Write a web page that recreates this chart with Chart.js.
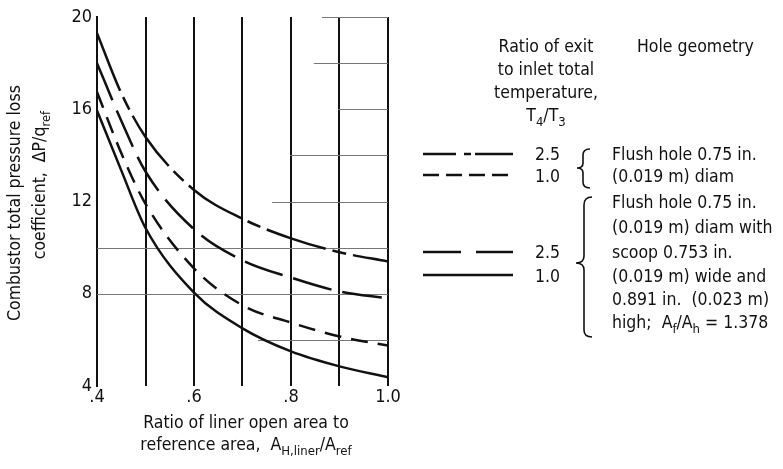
<!DOCTYPE html>
<html>
<head>
<meta charset="utf-8">
<script src="https://cdn.jsdelivr.net/npm/chart.js@4.4.1/dist/chart.umd.min.js"></script>
<style>
body{margin:0;background:#fff}
#wrap{position:relative;width:783px;height:469px;font-family:"DejaVu Sans Condensed","DejaVu Sans",sans-serif;font-stretch:condensed;font-size:17.5px;color:#111}
#wrap div{position:absolute;white-space:nowrap;line-height:1}
.c{transform:translate(-50%,-50%)}
.l{transform:translate(0,-50%)}
.r{transform:translate(-50%,-50%) rotate(-90deg)}
sub{font-size:13px;vertical-align:-5px;line-height:0}
svg{position:absolute;left:0;top:0}
</style>
</head>
<body>
<div id="wrap">
<canvas id="chart" width="783" height="469"></canvas>
<svg width="783" height="469">
  <g stroke="#111" stroke-width="2.5" fill="none">
    <line x1="423" y1="154" x2="513" y2="154" stroke-dasharray="33 8 7 4 40"/>
    <line x1="423" y1="175" x2="513" y2="175" stroke-dasharray="16 7"/>
    <line x1="423" y1="252" x2="513" y2="252" stroke-dasharray="38 15 40"/>
    <line x1="423" y1="275" x2="513" y2="275"/>
  </g>
  <g stroke="#111" stroke-width="1.6" fill="none">
    <path d="M590,149 Q583,149 583,155 L583,163 Q583,168 577,168 Q583,168 583,173 L583,182 Q583,188 590,188"/>
    <path d="M592,197 Q584,197 584,205 L584,256 Q584,263 576,263 Q584,263 584,270 L584,330 Q584,337 592,337"/>
  </g>
</svg>
<div class="r" style="left:15px;top:203px">Combustor total pressure loss</div>
<div class="r" style="left:40px;top:185px">coefficient,&nbsp; ΔP/q<sub>ref</sub></div>
<div class="c" style="left:246px;top:423px">Ratio of liner open area to</div>
<div class="c" style="left:246px;top:445px">reference area,&nbsp; A<sub>H,liner</sub>/A<sub>ref</sub></div>
<div class="c" style="left:546px;top:47px">Ratio of exit</div>
<div class="c" style="left:546px;top:70px">to inlet total</div>
<div class="c" style="left:546px;top:93px">temperature,</div>
<div class="c" style="left:546px;top:116px">T<sub>4</sub>/T<sub>3</sub></div>
<div class="l" style="left:637px;top:47px">Hole geometry</div>
<div class="l" style="left:535px;top:155px">2.5</div>
<div class="l" style="left:535px;top:177px">1.0</div>
<div class="l" style="left:535px;top:253px">2.5</div>
<div class="l" style="left:535px;top:277px">1.0</div>
<div class="l" style="left:612px;top:155px">Flush hole 0.75 in.</div>
<div class="l" style="left:612px;top:177px">(0.019 m) diam</div>
<div class="l" style="left:612px;top:203px">Flush hole 0.75 in.</div>
<div class="l" style="left:612px;top:228px">(0.019 m) diam with</div>
<div class="l" style="left:612px;top:253px">scoop 0.753 in.</div>
<div class="l" style="left:612px;top:277px">(0.019 m) wide and</div>
<div class="l" style="left:612px;top:300px">0.891 in.&nbsp; (0.023 m)</div>
<div class="l" style="left:612px;top:323px">high;&nbsp; A<sub>f</sub>/A<sub>h</sub> = 1.378</div>
</div>
<script>
const areaRatio=[0.4,0.45,0.5,0.6,0.7,0.8,0.9,1.0]
// T4/T3 = 2.5, flush hole
const flush25=[19.3,16.7,14.8,12.5,11.25,10.4,9.8,9.4]
// T4/T3 = 2.5, scoop
const scoop25=[18.0,15.5,13.3,10.8,9.45,8.7,8.1,7.8]
// T4/T3 = 1.0, flush hole
const flush10=[16.75,14.1,11.9,9.1,7.5,6.75,6.15,5.75]
// T4/T3 = 1.0, scoop
const scoop10=[15.95,13.35,10.85,8.05,6.5,5.5,4.85,4.38]

const xLabels=[0.4,0.6,0.8,1.0]
const yLabels=[4,8,12,16,20]
// horizontal rules of the original grid: value and where they start along x
const hRules=[[20,0.864],[18,0.847],[16,0.897],[14,0.798],[12,0.761],[10,0.4],[8,0.4],[6,0.732]]

const font={family:'"DejaVu Sans Condensed","DejaVu Sans",sans-serif',size:18}
const pts=a=>areaRatio.map((x,i)=>({x:x,y:a[i]}))
const line=(data,dash)=>({data:pts(data),borderColor:"#111",borderWidth:2.5,borderDash:dash,
  pointRadius:0,fill:false,cubicInterpolationMode:"monotone"})

const hGrid={id:"hGrid",beforeDatasetsDraw(chart){
  const {ctx,scales:{x,y}}=chart
  ctx.save()
  ctx.strokeStyle="#777";ctx.lineWidth=1.2
  hRules.forEach(([v,from])=>{
    const py=Math.round(y.getPixelForValue(v))+0.5
    ctx.beginPath();ctx.moveTo(x.getPixelForValue(from),py);ctx.lineTo(x.getPixelForValue(1.0),py);ctx.stroke()
  })
  ctx.restore()
}}

new Chart(document.getElementById("chart"),{
  type:"line",
  data:{datasets:[line(flush25,[62,7,14,7]),line(scoop25,[40,11]),line(flush10,[17,10]),line(scoop10,[])]},
  options:{
    responsive:false,animation:false,
    layout:{padding:{left:37,top:17,right:395,bottom:53}},
    plugins:{legend:{display:false},tooltip:{enabled:false}},
    scales:{
      x:{type:"linear",min:0.4,max:1.0,
        afterFit:s=>{s.height=30},
        border:{display:false},
        grid:{color:"#111",lineWidth:2,drawTicks:false},
        ticks:{stepSize:0.1,padding:1,color:"#111",font:font,maxRotation:0,autoSkip:false,
          callback:v=>{
            const k=xLabels.find(t=>Math.abs(t-v)<1e-6)
            if(k===undefined)return ""
            return k===1?"1.0":"."+Math.round(k*10)
          }}},
      y:{min:4,max:20,
        afterFit:s=>{s.width=60},
        border:{display:true,color:"#111",width:2},
        grid:{display:false,drawTicks:false},
        ticks:{stepSize:2,padding:5,color:"#111",font:font,autoSkip:false,
          callback:v=>yLabels.includes(v)?String(v):""}}
    }
  },
  plugins:[hGrid]
})
</script>
</body>
</html>
